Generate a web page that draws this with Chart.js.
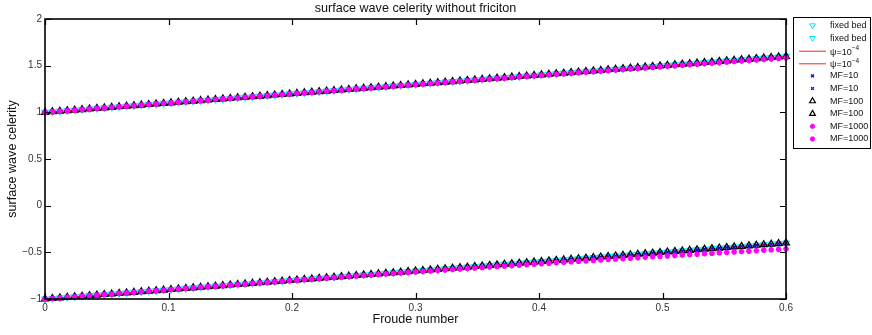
<!DOCTYPE html>
<html>
<head>
<meta charset="utf-8">
<script src="https://cdn.jsdelivr.net/npm/chart.js@4.4.1/dist/chart.umd.min.js"></script>
<style>
  html, body { margin: 0; padding: 0; background: #fff; }
  #wrap { width: 872px; height: 335px; }
</style>
</head>
<body>
<div id="wrap"><canvas id="grafico" width="872" height="335"></canvas></div>
<script>
// ===============================
// DATA
// ===============================
const froude = [
  0, 0.006, 0.012, 0.018, 0.024, 0.03, 0.036, 0.042, 0.048, 0.054,
  0.06, 0.066, 0.072, 0.078, 0.084, 0.09, 0.096, 0.102, 0.108, 0.114,
  0.12, 0.126, 0.132, 0.138, 0.144, 0.15, 0.156, 0.162, 0.168, 0.174,
  0.18, 0.186, 0.192, 0.198, 0.204, 0.21, 0.216, 0.222, 0.228, 0.234,
  0.24, 0.246, 0.252, 0.258, 0.264, 0.27, 0.276, 0.282, 0.288, 0.294,
  0.3, 0.306, 0.312, 0.318, 0.324, 0.33, 0.336, 0.342, 0.348, 0.354,
  0.36, 0.366, 0.372, 0.378, 0.384, 0.39, 0.396, 0.402, 0.408, 0.414,
  0.42, 0.426, 0.432, 0.438, 0.444, 0.45, 0.456, 0.462, 0.468, 0.474,
  0.48, 0.486, 0.492, 0.498, 0.504, 0.51, 0.516, 0.522, 0.528, 0.534,
  0.54, 0.546, 0.552, 0.558, 0.564, 0.57, 0.576, 0.582, 0.588, 0.594,
  0.6
];

// fixed bed (also psi, MF=10, MF=100 lie on it)
const celeridadArriba = [
  1, 1.006, 1.012, 1.018, 1.024, 1.03, 1.036, 1.042, 1.048, 1.054,
  1.06, 1.066, 1.072, 1.078, 1.084, 1.09, 1.096, 1.102, 1.108, 1.114,
  1.12, 1.126, 1.132, 1.138, 1.144, 1.15, 1.156, 1.162, 1.168, 1.174,
  1.18, 1.186, 1.192, 1.198, 1.204, 1.21, 1.216, 1.222, 1.228, 1.234,
  1.24, 1.246, 1.252, 1.258, 1.264, 1.27, 1.276, 1.282, 1.288, 1.294,
  1.3, 1.306, 1.312, 1.318, 1.324, 1.33, 1.336, 1.342, 1.348, 1.354,
  1.36, 1.366, 1.372, 1.378, 1.384, 1.39, 1.396, 1.402, 1.408, 1.414,
  1.42, 1.426, 1.432, 1.438, 1.444, 1.45, 1.456, 1.462, 1.468, 1.474,
  1.48, 1.486, 1.492, 1.498, 1.504, 1.51, 1.516, 1.522, 1.528, 1.534,
  1.54, 1.546, 1.552, 1.558, 1.564, 1.57, 1.576, 1.582, 1.588, 1.594,
  1.6
];

const celeridadAbajo = [
  -1, -0.994, -0.988, -0.982, -0.976, -0.97, -0.964, -0.958, -0.952, -0.946,
  -0.94, -0.934, -0.928, -0.922, -0.916, -0.91, -0.904, -0.898, -0.892, -0.886,
  -0.88, -0.874, -0.868, -0.862, -0.856, -0.85, -0.844, -0.838, -0.832, -0.826,
  -0.82, -0.814, -0.808, -0.802, -0.796, -0.79, -0.784, -0.778, -0.772, -0.766,
  -0.76, -0.754, -0.748, -0.742, -0.736, -0.73, -0.724, -0.718, -0.712, -0.706,
  -0.7, -0.694, -0.688, -0.682, -0.676, -0.67, -0.664, -0.658, -0.652, -0.646,
  -0.64, -0.634, -0.628, -0.622, -0.616, -0.61, -0.604, -0.598, -0.592, -0.586,
  -0.58, -0.574, -0.568, -0.562, -0.556, -0.55, -0.544, -0.538, -0.532, -0.526,
  -0.52, -0.514, -0.508, -0.502, -0.496, -0.49, -0.484, -0.478, -0.472, -0.466,
  -0.46, -0.454, -0.448, -0.442, -0.436, -0.43, -0.424, -0.418, -0.412, -0.406,
  -0.4
];

// MF=1000
const mf1000Arriba = [
  1, 1.006, 1.012, 1.018, 1.024, 1.03, 1.036, 1.042, 1.048, 1.054,
  1.06, 1.066, 1.072, 1.078, 1.084, 1.09, 1.096, 1.102, 1.108, 1.114,
  1.12, 1.126, 1.132, 1.138, 1.144, 1.15, 1.156, 1.162, 1.168, 1.174,
  1.18, 1.185, 1.191, 1.197, 1.203, 1.209, 1.215, 1.221, 1.227, 1.233,
  1.239, 1.245, 1.251, 1.256, 1.262, 1.268, 1.274, 1.28, 1.286, 1.292,
  1.297, 1.303, 1.309, 1.315, 1.321, 1.327, 1.332, 1.338, 1.344, 1.35,
  1.356, 1.361, 1.367, 1.373, 1.379, 1.385, 1.39, 1.396, 1.402, 1.408,
  1.413, 1.419, 1.425, 1.431, 1.436, 1.442, 1.448, 1.454, 1.459, 1.465,
  1.471, 1.476, 1.482, 1.488, 1.494, 1.499, 1.505, 1.511, 1.516, 1.522,
  1.528, 1.533, 1.539, 1.545, 1.55, 1.556, 1.562, 1.567, 1.573, 1.578,
  1.584
];

const mf1000Abajo = [
  -1, -0.994, -0.988, -0.982, -0.976, -0.97, -0.964, -0.958, -0.952, -0.946,
  -0.94, -0.934, -0.928, -0.922, -0.916, -0.91, -0.904, -0.898, -0.892, -0.886,
  -0.88, -0.874, -0.868, -0.862, -0.857, -0.851, -0.845, -0.839, -0.833, -0.827,
  -0.822, -0.816, -0.81, -0.804, -0.799, -0.793, -0.787, -0.782, -0.776, -0.771,
  -0.765, -0.759, -0.754, -0.748, -0.743, -0.737, -0.732, -0.726, -0.721, -0.716,
  -0.71, -0.705, -0.7, -0.694, -0.689, -0.684, -0.678, -0.673, -0.668, -0.663,
  -0.657, -0.652, -0.647, -0.642, -0.637, -0.632, -0.626, -0.621, -0.616, -0.611,
  -0.606, -0.601, -0.596, -0.591, -0.586, -0.581, -0.576, -0.572, -0.567, -0.562,
  -0.557, -0.552, -0.547, -0.543, -0.538, -0.533, -0.528, -0.524, -0.519, -0.514,
  -0.51, -0.505, -0.5, -0.496, -0.491, -0.487, -0.482, -0.477, -0.473, -0.468,
  -0.464
];

const xTicks = [0, 0.1, 0.2, 0.3, 0.4, 0.5, 0.6];
const yTicks = [-1, -0.5, 0, 0.5, 1, 1.5, 2];

const titulo = "surface wave celerity without friciton";
const tituloX = "Froude number";
const tituloY = "surface wave celerity";

// ===============================
// HELPERS
// ===============================
function puntos(ys) {
  return froude.map((x, i) => ({ x, y: ys[i] }));
}

function fmt(v) {
  return String(v).replace("-", "\u2212");
}

const FUENTE = "'Liberation Sans', Arial, sans-serif";

// estilos de cada serie
const estilos = {
  fixed: { pointStyle: "triangle", rotation: 180, pointRadius: 4, pointBorderWidth: 1,
           borderColor: "#00e5ff", pointBackgroundColor: "rgba(0,0,0,0)", showLine: false },
  psi:   { pointRadius: 0, borderColor: "#ff2020", borderWidth: 1, showLine: true },
  mf10:  { pointStyle: "crossRot", pointRadius: 2.5, pointBorderWidth: 1.3,
           borderColor: "#0000ff", showLine: false },
  mf100: { pointStyle: "triangle", rotation: 0, pointRadius: 4, pointBorderWidth: 1.2,
           borderColor: "#000000", pointBackgroundColor: "rgba(0,0,0,0)", showLine: false },
  mf1000:{ pointStyle: "star", pointRadius: 2.8, pointBorderWidth: 1.8,
           borderColor: "#ff00ff", showLine: false }
};

// tamaño del marcador en la leyenda
const radioLeyenda = { fixed: 3.3, mf10: 2, mf100: 3.3, mf1000: 2.5 };

function serie(label, ys, key, order) {
  const e = estilos[key];
  return Object.assign({
    label,
    data: puntos(ys),
    order,
    clip: false,
    pointHoverRadius: 0,
    backgroundColor: e.borderColor,
    pointBorderColor: e.borderColor
  }, e);
}

// ===============================
// PLUGIN: marco, ticks internos, textos y leyenda
// ===============================
const marcoPlugin = {
  id: "marco",
  afterDraw(chart) {
    const { ctx, chartArea: a, scales } = chart;
    ctx.save();

    // ticks internos
    ctx.strokeStyle = "#000";
    ctx.lineWidth = 1.2;
    const L = 6;
    ctx.beginPath();
    xTicks.forEach(t => {
      const px = Math.round(scales.x.getPixelForValue(t)) + 0.5;
      ctx.moveTo(px, a.bottom); ctx.lineTo(px, a.bottom - L);
      ctx.moveTo(px, a.top); ctx.lineTo(px, a.top + L);
    });
    yTicks.forEach(t => {
      const py = Math.round(scales.y.getPixelForValue(t)) + 0.5;
      ctx.moveTo(a.left, py); ctx.lineTo(a.left + L, py);
      ctx.moveTo(a.right, py); ctx.lineTo(a.right - L, py);
    });
    ctx.stroke();

    // caja
    ctx.lineWidth = 1.6;
    ctx.strokeRect(a.left, a.top, a.right - a.left, a.bottom - a.top);

    // textos
    const cx = (a.left + a.right) / 2;
    ctx.fillStyle = "#111";
    ctx.font = "12.6px " + FUENTE;
    ctx.textAlign = "center";
    ctx.textBaseline = "middle";
    ctx.fillText(titulo, cx, 9);
    ctx.fillText(tituloX, cx, 320);
    ctx.save();
    ctx.translate(13, (a.top + a.bottom) / 2);
    ctx.rotate(-Math.PI / 2);
    ctx.fillText(tituloY, 0, 0);
    ctx.restore();

    // leyenda
    const bx = 793, by = 17, bw = 78, bh = 132;
    ctx.fillStyle = "#fff";
    ctx.fillRect(bx, by, bw, bh);
    ctx.lineWidth = 1;
    ctx.strokeStyle = "#000";
    ctx.strokeRect(bx + 0.5, by + 0.5, bw - 1, bh - 1);

    const mx = 812.5, tx = 830, y0 = 25.5, dy = 12.6;
    chart.data.datasets.forEach((ds, i) => {
      const y = y0 + i * dy;
      if (ds.showLine) {
        ctx.strokeStyle = ds.borderColor;
        ctx.lineWidth = 1;
        ctx.beginPath();
        ctx.moveTo(799, y + 0.5); ctx.lineTo(826, y + 0.5);
        ctx.stroke();
      } else {
        ctx.strokeStyle = ds.borderColor;
        ctx.fillStyle = ds.pointBackgroundColor || ds.borderColor;
        ctx.lineWidth = ds.pointBorderWidth;
        Chart.helpers.drawPoint(ctx, {
          pointStyle: ds.pointStyle,
          rotation: ds.rotation || 0,
          radius: radioLeyenda[ds.key],
          borderWidth: ds.pointBorderWidth
        }, mx, y);
      }
      ctx.fillStyle = "#111";
      ctx.textAlign = "left";
      ctx.textBaseline = "middle";
      if (ds.key === "psi") {
        ctx.font = "9px " + FUENTE;
        ctx.fillText("\u03c8=10", tx, y + 1.5);
        const w = ctx.measureText("\u03c8=10").width;
        ctx.font = "6.5px " + FUENTE;
        ctx.fillText("\u22124", tx + w, y - 2.5);
      } else {
        ctx.font = "9px " + FUENTE;
        ctx.fillText(ds.label, tx, y);
      }
    });

    ctx.restore();
  }
};

// ===============================
// CHART
// ===============================
function crearGrafico() {
  const canvas = document.getElementById("grafico");

  const series = [
    ["fixed bed", celeridadArriba, "fixed", 5],
    ["fixed bed", celeridadAbajo, "fixed", 5],
    ["\u03c8=10\u207b\u2074", celeridadArriba, "psi", 4],
    ["\u03c8=10\u207b\u2074", celeridadAbajo, "psi", 4],
    ["MF=10", celeridadArriba, "mf10", 3],
    ["MF=10", celeridadAbajo, "mf10", 3],
    ["MF=100", celeridadArriba, "mf100", 2],
    ["MF=100", celeridadAbajo, "mf100", 2],
    ["MF=1000", mf1000Arriba, "mf1000", 1],
    ["MF=1000", mf1000Abajo, "mf1000", 1]
  ];

  const datasets = series.map(s => {
    const ds = serie(s[0], s[1], s[2], s[3]);
    ds.key = s[2];
    return ds;
  });

  new Chart(canvas, {
    type: "scatter",
    data: { datasets },
    options: {
      responsive: false,
      animation: false,
      events: [],
      layout: { padding: { top: 19, right: 86, bottom: 0, left: 0 } },
      plugins: {
        legend: { display: false },
        title: { display: false },
        tooltip: { enabled: false }
      },
      scales: {
        x: {
          type: "linear",
          min: 0,
          max: 0.6,
          afterFit: s => { s.height = 36; },
          afterBuildTicks: s => { s.ticks = xTicks.map(v => ({ value: v })); },
          grid: { display: false, drawTicks: false },
          border: { display: false },
          ticks: {
            padding: 3,
            color: "#333",
            font: { family: FUENTE, size: 10 },
            maxRotation: 0,
            callback: v => fmt(v)
          }
        },
        y: {
          type: "linear",
          min: -1,
          max: 2,
          afterFit: s => { s.width = 45; },
          afterBuildTicks: s => { s.ticks = yTicks.map(v => ({ value: v })); },
          grid: { display: false, drawTicks: false },
          border: { display: false },
          ticks: {
            padding: 3,
            color: "#333",
            font: { family: FUENTE, size: 10 },
            callback: v => fmt(v)
          }
        }
      }
    },
    plugins: [marcoPlugin]
  });
}

document.addEventListener("DOMContentLoaded", crearGrafico);
</script>
</body>
</html>
